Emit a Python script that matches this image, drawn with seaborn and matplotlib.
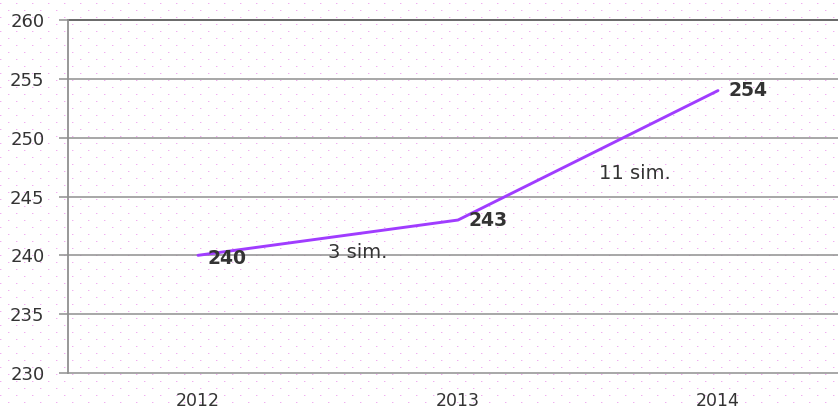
import numpy as np
import pandas as pd
import matplotlib
matplotlib.use("Agg")
import matplotlib.pyplot as plt
import seaborn as sns

# Data
years = ["2012", "2013", "2014"]
values = [240, 243, 254]
y_ticks = [230, 235, 240, 245, 250, 255, 260]

df = pd.DataFrame({"year": years, "value": values})

sns.set_theme(style="white")
plt.rcParams["font.family"] = ["DejaVu Sans"]

W, H, DPI = 838, 409, 100
fig = plt.figure(figsize=(W / DPI, H / DPI), dpi=DPI)

# Faint pink dotted background (staggered lattice) on a full-figure axes
bg = np.ones((H, W, 3))
pink = np.array([240, 175, 240]) / 255.0
soft = np.array([250, 222, 250]) / 255.0
for r, yy in enumerate(range(3, H, 7)):
    off = 0 if r % 2 == 0 else 8
    for xx in range(off, W, 16):
        bg[yy, xx] = pink
        if xx + 1 < W:
            bg[yy, xx + 1] = soft
bg_ax = fig.add_axes([0, 0, 1, 1], zorder=-1)
bg_ax.imshow(bg, interpolation="nearest", aspect="auto")
bg_ax.axis("off")

left = 68 / W
bottom = (H - 373) / H
height = 353 / H
width = 780 / W
ax = fig.add_axes([left, bottom, width, height], zorder=1)
ax.patch.set_alpha(0)

sns.lineplot(data=df, x="year", y="value", ax=ax, color="#a03cff",
             linewidth=2.1, sort=False, zorder=3)

ax.set_xlim(-0.5, 2.5)
ax.set_ylim(230, 260)
ax.set_yticks(y_ticks)
ax.set_yticklabels([str(t) for t in y_ticks])
ax.set_xlabel("")
ax.set_ylabel("")

# Horizontal grid lines
for t in y_ticks:
    ax.axhline(t, color="#404040" if t == 260 else "#909090",
               linewidth=1.1, zorder=1, clip_on=False)

for s in ["top", "right", "bottom"]:
    ax.spines[s].set_visible(False)
ax.spines["left"].set_color("#909090")
ax.spines["left"].set_linewidth(1.3)

ax.tick_params(axis="y", which="both", left=True, length=6.5, width=1.1,
               color="#909090", labelsize=13, labelcolor="#333333", pad=10.5)
ax.tick_params(axis="x", bottom=False, labelsize=12.5, labelcolor="#333333", pad=8)

# Value labels next to each point
label_offsets = [(6.5, -2.5), (7.2, 0), (7.2, 0)]
for i, (v, off) in enumerate(zip(values, label_offsets)):
    ax.annotate(str(v), xy=(i, v), xytext=off, textcoords="offset points",
                ha="left", va="center", fontsize=13.5, fontweight="bold",
                color="#333333", zorder=4)

# Year-on-year change labels
diff_offsets = [(0, -11), (8, -13)]
for i, off in enumerate(diff_offsets):
    d = values[i + 1] - values[i]
    mx = i + 0.5
    my = (values[i] + values[i + 1]) / 2
    ax.annotate(f"{d} sim.", xy=(mx, my), xytext=off, textcoords="offset points",
                ha="left", va="center", fontsize=14, color="#333333", zorder=4)

fig.savefig("out.png", dpi=DPI)
